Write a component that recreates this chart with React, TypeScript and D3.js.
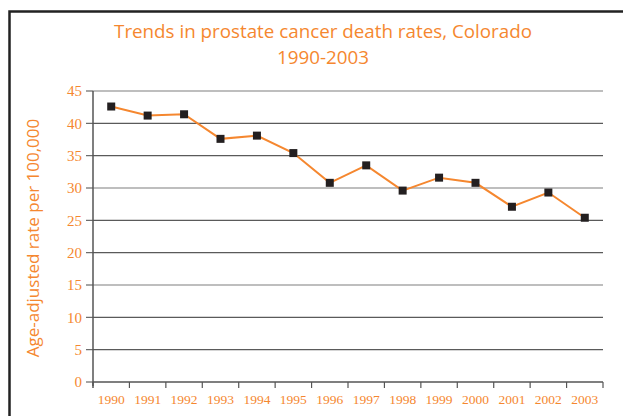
import React from "react";
import * as d3 from "d3";

const years = ["1990","1991","1992","1993","1994","1995","1996","1997","1998","1999","2000","2001","2002","2003"];
const rates = [42.6, 41.2, 41.4, 37.6, 38.1, 35.4, 30.8, 33.5, 29.6, 31.6, 30.8, 27.1, 29.3, 25.4];
const yTicks = [0, 5, 10, 15, 20, 25, 30, 35, 40, 45];
const titleLines = ["Trends in prostate cancer death rates, Colorado", "1990-2003"];
const yLabel = "Age-adjusted rate per 100,000";

const ORANGE = "#f5872f";

export default function App() {
  const W = 623, H = 416;
  const left = 93, right = 603, top = 91, bottom = 382;
  const x = d3.scaleBand<string>().domain(years).range([left, right]).padding(0);
  const y = d3.scaleLinear().domain([0, 45]).range([bottom, top]);
  const line = d3.line<number>()
    .x((_, i) => (x(years[i]) as number) + x.bandwidth() / 2)
    .y((d) => y(d));
  const light = new Set([45, 30, 15]);
  return (
    <svg width={W} height={H} style={{ position: "absolute", left: 0, top: 0, background: "#fff" }}>
      <rect x={9.5} y={11.5} width={W + 10} height={H + 10} fill="none" stroke="#222" strokeWidth={2.5} />
      {titleLines.map((t, i) => (
        <text key={i} x={323} y={37.5 + i * 26.8} textAnchor="middle" fill={ORANGE}
          style={{ fontFamily: "'Open Sans', sans-serif", fontSize: 18.8 }}>{t}</text>
      ))}
      {yTicks.map((v) => (
        <g key={v}>
          {v > 0 && (
            <line x1={left} x2={right} y1={y(v)} y2={y(v)}
              stroke={light.has(v) ? "#a8a8a8" : "#5a5a5a"} strokeWidth={light.has(v) ? 1.6 : 1.1} />
          )}
          <line x1={left - 7} x2={left} y1={y(v)} y2={y(v)} stroke="#5a5a5a" strokeWidth={1.1} />
          <text x={82} y={y(v)} dy="0.35em" textAnchor="end" fill={ORANGE}
            style={{ fontFamily: "'Liberation Serif', serif", fontSize: 15 }}>{v}</text>
        </g>
      ))}
      <line x1={left} x2={left} y1={top} y2={bottom + 4} stroke="#555" strokeWidth={1.5} />
      <line x1={left} x2={right} y1={bottom} y2={bottom} stroke="#555" strokeWidth={1.5} />
      {years.map((yr, i) => (
        <g key={yr}>
          <line x1={(x(yr) as number) + x.bandwidth()} x2={(x(yr) as number) + x.bandwidth()}
            y1={bottom} y2={bottom + 6} stroke="#555" strokeWidth={1.2} />
          {i === 0 && <line x1={left} x2={left} y1={bottom} y2={bottom + 6} stroke="#555" strokeWidth={1.5} />}
          <text x={(x(yr) as number) + x.bandwidth() / 2} y={404} textAnchor="middle" fill={ORANGE}
            style={{ fontFamily: "'Liberation Serif', serif", fontSize: 13.5 }}>{yr}</text>
        </g>
      ))}
      <path d={line(rates) || ""} fill="none" stroke={ORANGE} strokeWidth={2} />
      {rates.map((r, i) => (
        <rect key={i} x={(x(years[i]) as number) + x.bandwidth() / 2 - 4} y={y(r) - 4} width={8} height={8} fill="#231f20" />
      ))}
      <text transform={`translate(39,238) rotate(-90)`} textAnchor="middle" fill={ORANGE}
        style={{ fontFamily: "'Open Sans', sans-serif", fontSize: 17 }}>{yLabel}</text>
    </svg>
  );
}
